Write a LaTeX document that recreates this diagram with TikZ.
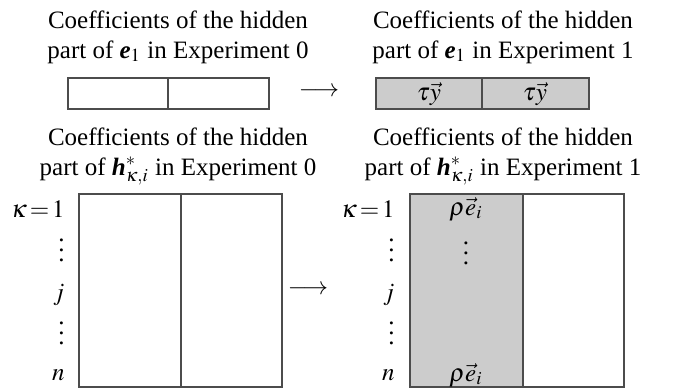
\documentclass[tikz,border=0pt]{standalone}
\usepackage{amsmath}
\usepackage{mathptmx}
\usepackage{fontspec}
\setmainfont{Liberation Serif}
\usetikzlibrary{positioning}

\newcommand{\hidvec}[1]{\textbf{\textit{#1}}}

\begin{document}
\begin{tikzpicture}[
    x=0.4pt, y=-0.4pt,
    title/.style={
        align=center,
        anchor=base,
        inner sep=0pt,
        font=\fontsize{10}{12}\selectfont
    },
    cell/.style={
        draw=black!70,
        line width=0.5pt
    },
    hid_cell/.style={
        cell,
        fill=gray!40
    },
    row_label/.style={
        anchor=east,
        inner sep=0pt
    },
    entry/.style={
        inner sep=0pt
    },
    dots/.style={
        inner sep=0pt,
        text height=9pt,
        text depth=0pt
    }
]
    \useasboundingbox (0,0) rectangle (678,389);

    % ====== top: coefficients of e_1 ======
    \node[title] (e_zero_title) at (178,58) {Coefficients of the hidden\\part of \hidvec{e}$_1$ in Experiment 0};
    \node[title] (e_one_title) at (503,58) {Coefficients of the hidden\\part of \hidvec{e}$_1$ in Experiment 1};

    % vector of experiment 0 (empty)
    \draw[cell] (68,78) rectangle (269,109);
    \draw[cell] (168,78) -- (168,109);

    % vector of experiment 1 (hidden part filled)
    \draw[hid_cell] (376,78) rectangle (589,109);
    \draw[cell] (482,78) -- (482,109);
    \node[entry] (tau_left) at (429,94) {$\tau\vec{y}$};
    \node[entry] (tau_right) at (535,94) {$\tau\vec{y}$};

    \node[entry] (e_arrow) at (319,92) {$\longrightarrow$};

    % ====== bottom: coefficients of h*_{kappa,i} ======
    \node[title] (h_zero_title) at (178,175) {Coefficients of the hidden\\part of \hidvec{h}$^{*}_{\kappa,i}$ in Experiment 0};
    \node[title] (h_one_title) at (503,175) {Coefficients of the hidden\\part of \hidvec{h}$^{*}_{\kappa,i}$ in Experiment 1};

    % matrix of experiment 0 (empty)
    \draw[cell] (79,194) rectangle (282,387);
    \draw[cell] (181,194) -- (181,387);

    % matrix of experiment 1 (first column filled)
    \draw[hid_cell] (410,194) rectangle (523,387);
    \draw[cell] (523,194) rectangle (624,387);

    % row labels of both matrices
    \foreach \ypos/\txt/\nm in {209/{$\kappa\,{=}\,1$}/k, 295/{$j$}/j, 375/{$n$}/n} {
        \node[row_label] (left_\nm) at (65,\ypos) {\txt};
        \node[row_label] (right_\nm) at (395,\ypos) {\txt};
    }
    \foreach \ypos/\nm in {250/da, 333/db} {
        \node[row_label, dots] (left_\nm) at (65,\ypos) {$\vdots$};
        \node[row_label, dots] (right_\nm) at (395,\ypos) {$\vdots$};
    }

    % entries of the filled column
    \node[entry] (rho_top) at (466,209) {$\rho\vec{e}_i$};
    \node[dots] (rho_dots) at (466,253) {$\vdots$};
    \node[entry] (rho_bottom) at (466,375) {$\rho\vec{e}_i$};

    \node[entry] (h_arrow) at (308,290) {$\longrightarrow$};

\end{tikzpicture}
\end{document}
